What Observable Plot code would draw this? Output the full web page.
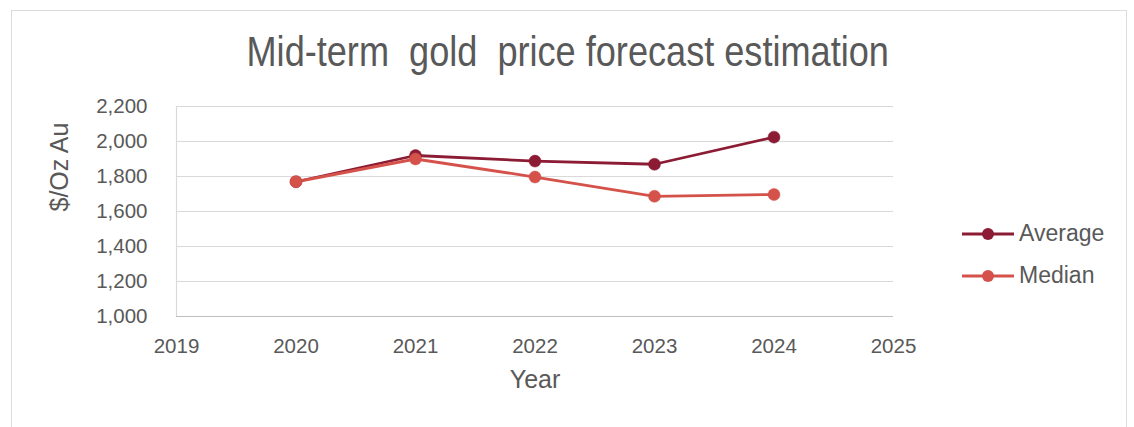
<!DOCTYPE html>
<html>
<head>
<meta charset="utf-8">
<script src="https://cdn.jsdelivr.net/npm/d3@7"></script>
<script src="https://cdn.jsdelivr.net/npm/@observablehq/plot@0.6"></script>
<style>
  body { margin: 0; background: #fff; font-family: "Liberation Sans", Arial, sans-serif; }
  #wrap { position: relative; width: 1134px; height: 427px; overflow: hidden; }
  #frame { position: absolute; left: 11px; top: 10px; width: 1116px; height: 430px; border: 1.5px solid #dcdcdc; box-sizing: border-box; }
  #title { position: absolute; left: 0; width: 1134px; top: 28px; text-align: center; font-size: 42px; line-height: 48px; color: #595959; white-space: pre; transform: scaleX(0.86); transform-origin: 572px 0; }
  #chart { position: absolute; left: 0; top: 0; }
  .leg { position: absolute; left: 960px; display: flex; align-items: center; font-size: 23px; color: #595959; }
  .leg svg { margin-right: 3px; }
</style>
</head>
<body>
<div id="wrap">
  <div id="frame"></div>
  <div id="chart"></div>
  <div id="title">Mid-term  gold  price forecast estimation</div>
  <div id="legend"></div>
</div>
<script>
const years = [2020, 2021, 2022, 2023, 2024];
const average = [1770, 1920, 1888, 1870, 2025];
const median = [1770, 1900, 1797, 1687, 1697];
const seriesNames = ["Average", "Median"];
const seriesColors = ["#8c1b34", "#d5524b"];
const yTicks = [1000, 1200, 1400, 1600, 1800, 2000, 2200];
const xTicks = [2019, 2020, 2021, 2022, 2023, 2024, 2025];

const data = [];
years.forEach((y, i) => {
  data.push({year: y, value: average[i], series: seriesNames[0]});
  data.push({year: y, value: median[i], series: seriesNames[1]});
});

const plot = Plot.plot({
  width: 1134,
  height: 427,
  marginTop: 106,
  marginBottom: 111,
  marginLeft: 176,
  marginRight: 241,
  style: {fontFamily: "'Liberation Sans', Arial, sans-serif", color: "#595959", background: "transparent"},
  x: {domain: [2019, 2025], ticks: xTicks, tickFormat: d => String(d), label: null},
  y: {domain: [1000, 2200], ticks: yTicks, tickFormat: d3.format(","), label: null},
  color: {domain: seriesNames, range: seriesColors},
  marks: [
    Plot.gridY(yTicks, {stroke: "#d9d9d9", strokeOpacity: 1, strokeWidth: 1.2}),
    Plot.ruleX([2019], {stroke: "#d9d9d9", strokeWidth: 1.2}),
    Plot.ruleY([1000], {stroke: "#bfbfbf", strokeWidth: 1.2}),
    Plot.axisY(yTicks, {tickSize: 0, tickPadding: 29, fontSize: 20.5, fill: "#595959", tickFormat: d3.format(","), label: null}),
    Plot.axisX(xTicks, {tickSize: 0, tickPadding: 22, fontSize: 20.5, fill: "#595959", tickFormat: d => String(d), label: null}),
    Plot.line(data, {x: "year", y: "value", z: "series", stroke: "series", strokeWidth: 2.8}),
    Plot.dot(data, {x: "year", y: "value", fill: "series", r: 6, stroke: "series", strokeWidth: 0.5}),
    Plot.text(["Year"], {frameAnchor: "bottom", dy: 71, fontSize: 25, fill: "#595959"}),
    Plot.text(["$/Oz Au"], {frameAnchor: "left", dx: -117, rotate: -90, fontSize: 25, fill: "#595959"})
  ]
});
document.getElementById("chart").appendChild(plot);

const legend = document.getElementById("legend");
const legTops = [233, 275];
seriesNames.forEach((name, i) => {
  const d = document.createElement("div");
  d.className = "leg";
  d.style.top = (legTops[i] - 13) + "px";
  d.innerHTML = `<svg width="56" height="26"><line x1="2" y1="13" x2="54" y2="13" stroke="${seriesColors[i]}" stroke-width="2.8"/><circle cx="28" cy="13" r="6" fill="${seriesColors[i]}"/></svg><span>${name}</span>`;
  legend.appendChild(d);
});
</script>
</body>
</html>
